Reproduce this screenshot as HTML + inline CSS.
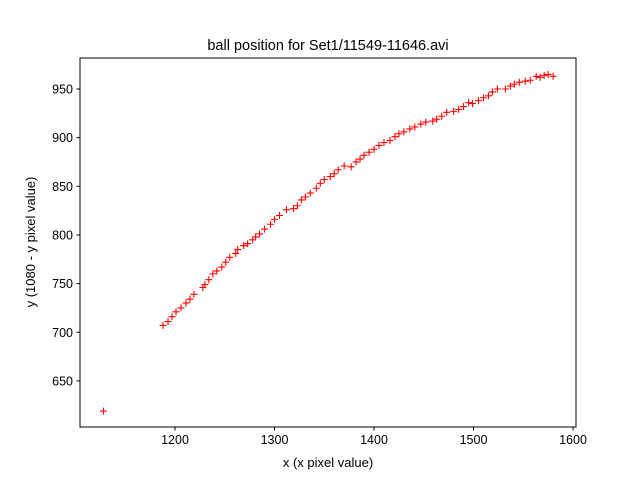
<!DOCTYPE html>
<html><head><meta charset="utf-8"><style>
body{margin:0;background:#fff;}
svg{display:block;font-family:"Liberation Sans","DejaVu Sans",sans-serif;}
</style></head><body>
<svg id="chart" width="640" height="480" xmlns="http://www.w3.org/2000/svg">
<rect width="640" height="480" fill="#fff"/>
<text x="328" y="50" text-anchor="middle" font-size="14.5">ball position for Set1/11549-11646.avi</text>
<g id="marks"></g>
<g id="axes"></g>
<text x="328" y="467" text-anchor="middle" font-size="13">x (x pixel value)</text>
<text transform="translate(35,242) rotate(-90)" text-anchor="middle" font-size="13">y (1080 - y pixel value)</text>
</svg>
<script>
const xs=[1128,1188,1193,1197,1201,1206,1211,1215,1219,1228,1230,1234,1238,1242,1247,1251,1255,1261,1263,1269,1273,1278,1281,1285,1290,1296,1300,1305,1312,1319,1323,1327,1331,1336,1342,1346,1350,1356,1360,1364,1370,1377,1382,1386,1390,1395,1400,1405,1410,1416,1421,1425,1430,1436,1441,1447,1452,1459,1463,1468,1473,1480,1485,1490,1495,1499,1505,1510,1515,1519,1524,1532,1537,1541,1546,1552,1557,1563,1567,1571,1575,1580];
const ys=[619,707,711,716,721,725,730,734,739,746,749,754,760,763,767,772,777,781,785,789,791,795,798,801,806,811,816,820,826,827,830,836,839,843,848,853,857,860,863,867,871,870,875,878,882,885,888,892,895,897,901,904,906,909,911,914,916,917,919,922,926,927,929,932,936,935,938,941,943,947,950,950,953,955,957,958,959,963,962,964,965,963];
const xTicks=[1200,1300,1400,1500,1600];
const yTicks=[650,700,750,800,850,900,950];
const L=80,R=576,T=58,B=427;
const X0=1104.5,X1=1603,Y0=1004.6,Y1=625.4-0; 
function sx(v){return L+(v-X0)/(X1-X0)*(R-L);}
function sy(v){return 89+(950-v)*0.973;}
const NS='http://www.w3.org/2000/svg';
function mk(t,a,p){const e=document.createElementNS(NS,t);for(const k in a)e.setAttribute(k,a[k]);p.appendChild(e);return e;}
const marks=document.getElementById('marks');
xs.forEach((x,i)=>{const cx=sx(x),cy=sy(ys[i]);
const g=mk('path',{d:`M${cx-3.5},${cy}H${cx+3.5}M${cx},${cy-3.5}V${cy+3.5}`,stroke:'#f00','stroke-width':1.1,fill:'none'},marks);


});
const axes=document.getElementById('axes');
const fr=mk('rect',{x:L,y:T,width:R-L,height:B-T,fill:'none',stroke:'#000','stroke-width':1},axes);


xTicks.forEach(v=>{const x=sx(v);
mk('line',{x1:x,x2:x,y1:B,y2:B+3.5,stroke:'#000'},axes);
const t=mk('text',{x:x,y:B+17,'text-anchor':'middle','font-size':12.5},axes);t.textContent=v;


});
yTicks.forEach(v=>{const y=sy(v);
mk('line',{x1:L-3.5,x2:L,y1:y,y2:y,stroke:'#000'},axes);
const t=mk('text',{x:L-7,y:y+4.5,'text-anchor':'end','font-size':12.5},axes);t.textContent=v;


});
</script>
</body></html>
